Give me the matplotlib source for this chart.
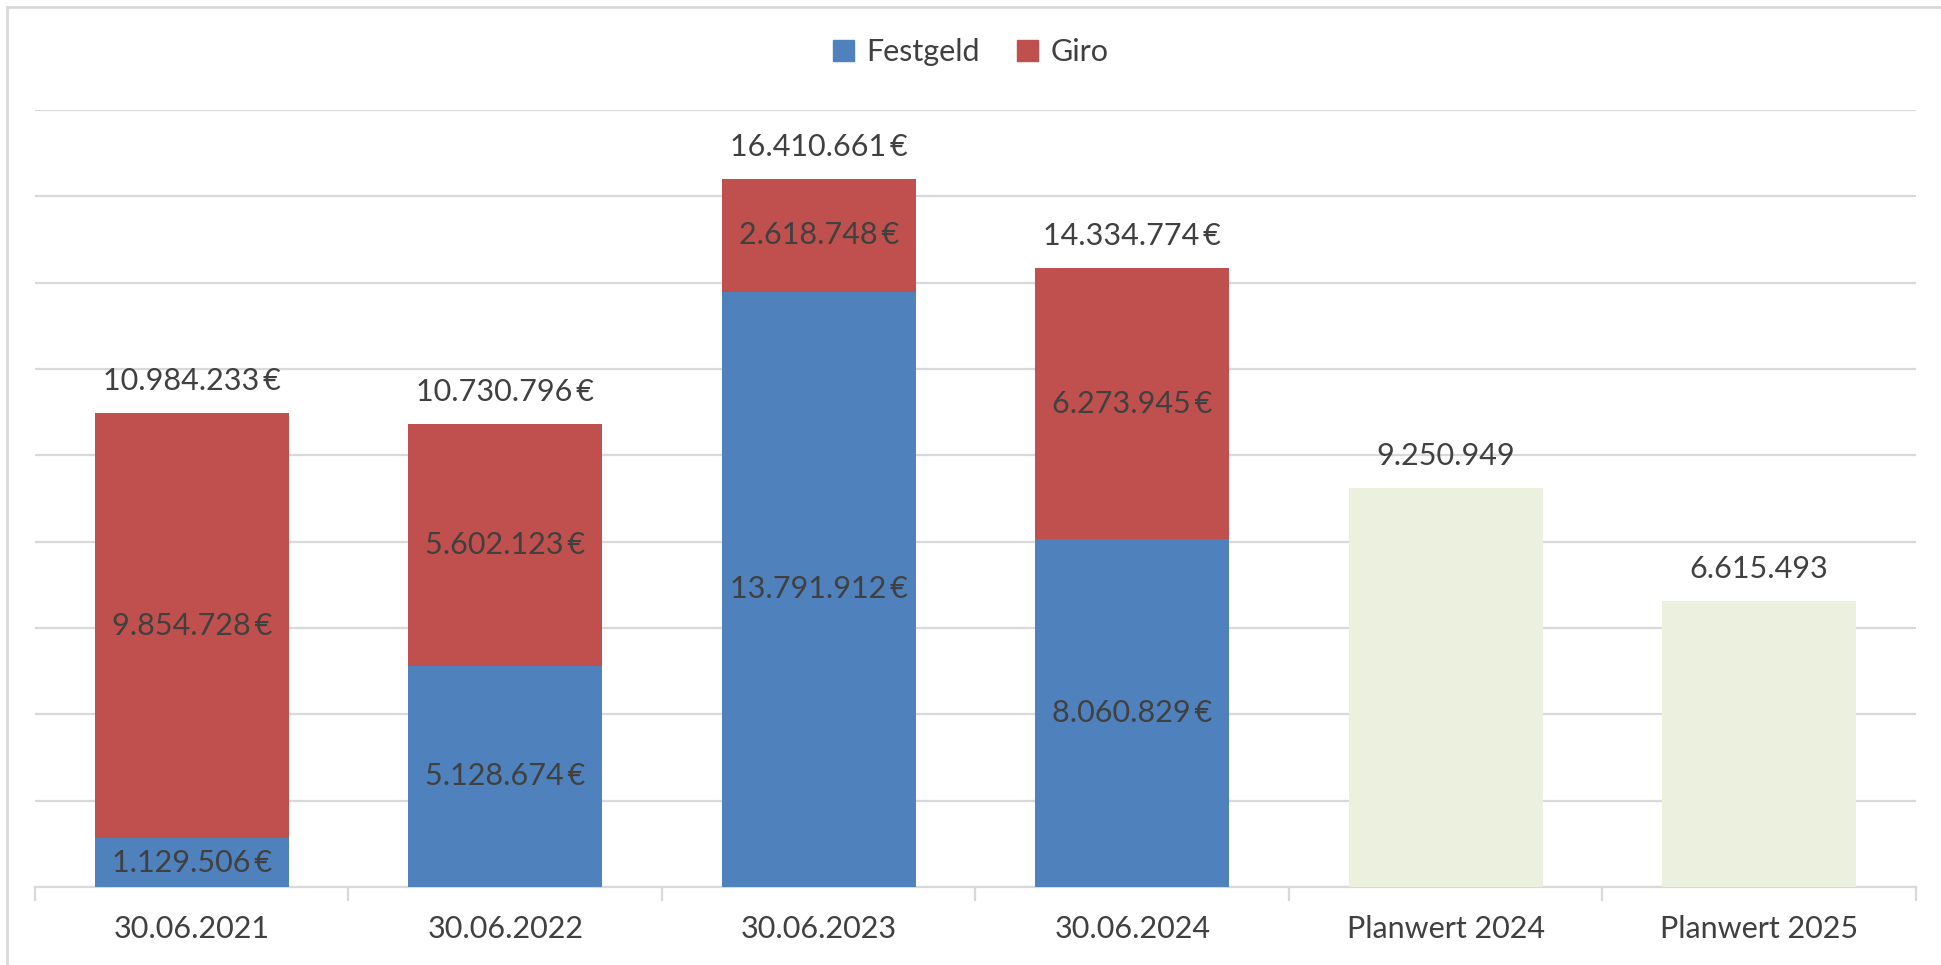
import matplotlib
matplotlib.use("Agg")
import matplotlib.pyplot as plt
from matplotlib.lines import Line2D
from matplotlib.patches import Patch

plt.rcParams["font.family"] = ["Lato", "DejaVu Sans"]

categories = ["30.06.2021", "30.06.2022", "30.06.2023", "30.06.2024",
              "Planwert 2024", "Planwert 2025"]
festgeld = [1129506, 5128674, 13791912, 8060829]
giro = [9854728, 5602123, 2618748, 6273945]
totals = [10984233, 10730796, 16410661, 14334774]
planwert = [9250949, 6615493]

BLUE = "#4F81BD"
RED = "#C0504D"
GREEN = "#EBF1DE"
TEXT = "#404040"
GRID = "#D9D9D9"
FS = 22


def fmt(v, euro=True):
    s = f"{v:,}".replace(",", ".")
    return s + "\u2009€" if euro else s


fig = plt.figure(figsize=(19.41, 9.65), dpi=100)
ax = fig.add_axes([35 / 1941, 1 - 887 / 965, (1916 - 35) / 1941, (887 - 110) / 965])

w = 0.62
xs = list(range(len(festgeld)))
xp = [len(festgeld) + i for i in range(len(planwert))]

ax.bar(xs, festgeld, width=w, color=BLUE, zorder=3)
ax.bar(xs, giro, width=w, bottom=festgeld, color=RED, zorder=3)
ax.bar(xp, planwert, width=w, color=GREEN, zorder=3)

for x, f, g, t in zip(xs, festgeld, giro, totals):
    ax.text(x, f / 2, fmt(f), ha="center", va="center", fontsize=FS, color=TEXT, zorder=4)
    ax.text(x, f + g / 2, fmt(g), ha="center", va="center", fontsize=FS, color=TEXT, zorder=4)
    ax.annotate(fmt(t), (x, f + g), xytext=(0, 23), textcoords="offset points",
                ha="center", va="center", fontsize=FS, color=TEXT)
for x, p in zip(xp, planwert):
    ax.annotate(fmt(p, euro=False), (x, p), xytext=(0, 23), textcoords="offset points",
                ha="center", va="center", fontsize=FS, color=TEXT)

ax.set_xlim(-0.5, len(categories) - 0.5)
ax.set_ylim(0, 18000000)
ax.set_yticks(range(0, 18000001, 2000000))
ax.yaxis.grid(True, color=GRID, linewidth=1.6, zorder=0)
ax.tick_params(axis="y", left=False, labelleft=False)

ax.set_xticks(range(len(categories)))
ax.set_xticklabels(categories, fontsize=FS, color=TEXT)
ax.tick_params(axis="x", length=0, pad=20)
ax.set_xticks([i - 0.5 for i in range(len(categories) + 1)], minor=True)
ax.tick_params(axis="x", which="minor", length=10, width=1.6, color=GRID)

for s in ["top", "right", "left"]:
    ax.spines[s].set_visible(False)
ax.spines["bottom"].set_color(GRID)
ax.spines["bottom"].set_linewidth(1.6)

handles = [Patch(color=BLUE, label="Festgeld"), Patch(color=RED, label="Giro")]
fig.legend(handles=handles, loc="center", bbox_to_anchor=(0.5, 1 - 52 / 965), ncol=2,
           frameon=False, fontsize=FS, labelcolor=TEXT, handlelength=0.7,
           handleheight=0.7, handletextpad=0.4, columnspacing=1.2)

# outer chart border (top and left visible)
fig.add_artist(Line2D([7 / 1941, 1], [1 - 7 / 965, 1 - 7 / 965], color=GRID, lw=2,
                      transform=fig.transFigure))
fig.add_artist(Line2D([7 / 1941, 7 / 1941], [0, 1 - 7 / 965], color=GRID, lw=2,
                      transform=fig.transFigure))

fig.savefig("out.png", dpi=100, facecolor="white")
